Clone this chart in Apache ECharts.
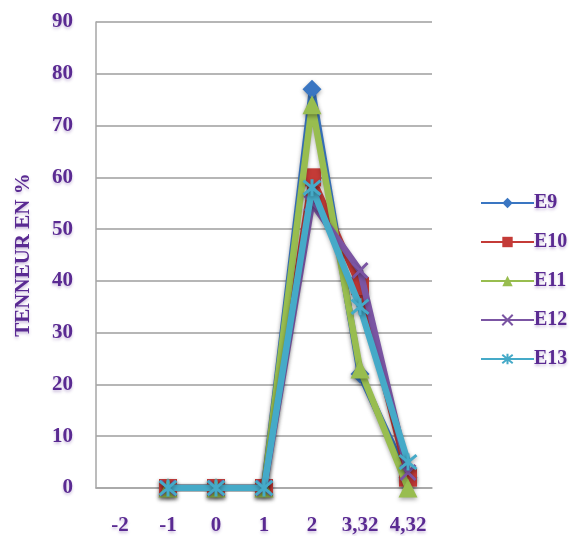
<!DOCTYPE html>
<html>
<head>
<meta charset="utf-8">
<script src="https://cdn.jsdelivr.net/npm/echarts@6/dist/echarts.min.js"></script>
<style>
  html, body { margin: 0; padding: 0; background: #fff; }
  #chart { width: 571px; height: 536px; }
</style>
</head>
<body>
<div id="chart"></div>
<script>
// Categories along the x axis
const categories = ['-2', '-1', '0', '1', '2', '3,32', '4,32'];

// Contents (%) per sample
const e9  = [null, 0, 0, 0, 77, 22, 2];
const e10 = [null, 0, 0, 0, 60, 39, 2];
const e11 = [null, 0, 0, 0, 74, 23, 0];
const e12 = [null, 0, 0, 0, 55, 42, 3];
const e13 = [null, 0, 0, 0, 58, 35, 5];

const seriesNames = ['E9', 'E10', 'E11', 'E12', 'E13'];
const seriesData = [e9, e10, e11, e12, e13];
const colors = ['#3a76c2', '#c43b37', '#98bd4f', '#7b55a3', '#45aac8'];

const crossPath = 'path://M0,0 L10,10 M10,0 L0,10';
const starPath = 'path://M0,0 L10,10 M10,0 L0,10 M5,-1 L5,11';
const symbols = ['diamond', 'rect', 'triangle', crossPath, starPath];
const symbolSizes = [19, 18, 19, 15, 17];

const textPurple = '#5a2a92';
const serif = '"Liberation Serif", "DejaVu Serif", serif';
const textGlow = {
  textShadowColor: 'rgba(90,42,146,0.3)',
  textShadowBlur: 3,
  textShadowOffsetY: 2
};

const chart = echarts.init(document.getElementById('chart'));

const series = seriesNames.map((name, i) => {
  const strokeSymbol = i >= 3;
  return {
    name: name,
    type: 'line',
    data: seriesData[i],
    symbol: symbols[i],
    symbolSize: symbolSizes[i],
    showSymbol: true,
    connectNulls: false,
    z: 2 + i,
    lineStyle: {
      color: colors[i],
      width: 6.5,
      shadowColor: 'rgba(0,0,0,0.25)',
      shadowBlur: 4,
      shadowOffsetY: 2
    },
    itemStyle: {
      color: strokeSymbol ? 'rgba(0,0,0,0)' : colors[i],
      borderColor: colors[i],
      borderWidth: strokeSymbol ? 3 : 0,
      shadowColor: 'rgba(0,0,0,0.35)',
      shadowBlur: 4,
      shadowOffsetY: 2
    },
    emphasis: { disabled: true }
  };
});

chart.setOption({
  animation: false,
  backgroundColor: '#ffffff',
  color: colors,
  grid: { left: 96, right: 139, top: 22, bottom: 48, containLabel: false },
  legend: {
    orient: 'vertical',
    left: 475,
    top: 188,
    itemWidth: 53,
    itemHeight: 13,
    itemGap: 19,
    data: seriesNames.map((n, i) => ({
      name: n,
      itemStyle: {
        color: i >= 3 ? 'rgba(0,0,0,0)' : colors[i],
        borderColor: colors[i],
        borderWidth: i >= 3 ? 2 : 0,
        shadowBlur: 0
      },
      lineStyle: { width: 2, shadowBlur: 0, color: colors[i] }
    })),
    textStyle: Object.assign({
      color: textPurple,
      fontFamily: serif,
      fontWeight: 'bold',
      fontSize: 20,
      padding: [0, 0, 0, -5]
    }, textGlow)
  },
  xAxis: {
    type: 'category',
    data: categories,
    boundaryGap: true,
    axisLine: { show: true, lineStyle: { color: '#a6a6a6', width: 1.5 } },
    axisTick: { show: false },
    axisLabel: Object.assign({
      color: textPurple,
      fontFamily: serif,
      fontWeight: 'bold',
      fontSize: 21,
      margin: 27
    }, textGlow),
    splitLine: { show: false }
  },
  yAxis: {
    type: 'value',
    min: 0,
    max: 90,
    interval: 10,
    name: 'TENNEUR EN %',
    nameLocation: 'middle',
    nameGap: 62,
    nameRotate: 90,
    nameTextStyle: Object.assign({
      color: textPurple,
      fontFamily: serif,
      fontWeight: 'bold',
      fontSize: 21
    }, textGlow),
    axisLine: { show: true, lineStyle: { color: '#a6a6a6', width: 1.5 } },
    axisTick: { show: false },
    axisLabel: Object.assign({
      color: textPurple,
      fontFamily: serif,
      fontWeight: 'bold',
      fontSize: 21,
      margin: 23
    }, textGlow),
    splitLine: { show: true, lineStyle: { color: '#9e9e9e', width: 1.5 } }
  },
  series: series
});
</script>
</body>
</html>
